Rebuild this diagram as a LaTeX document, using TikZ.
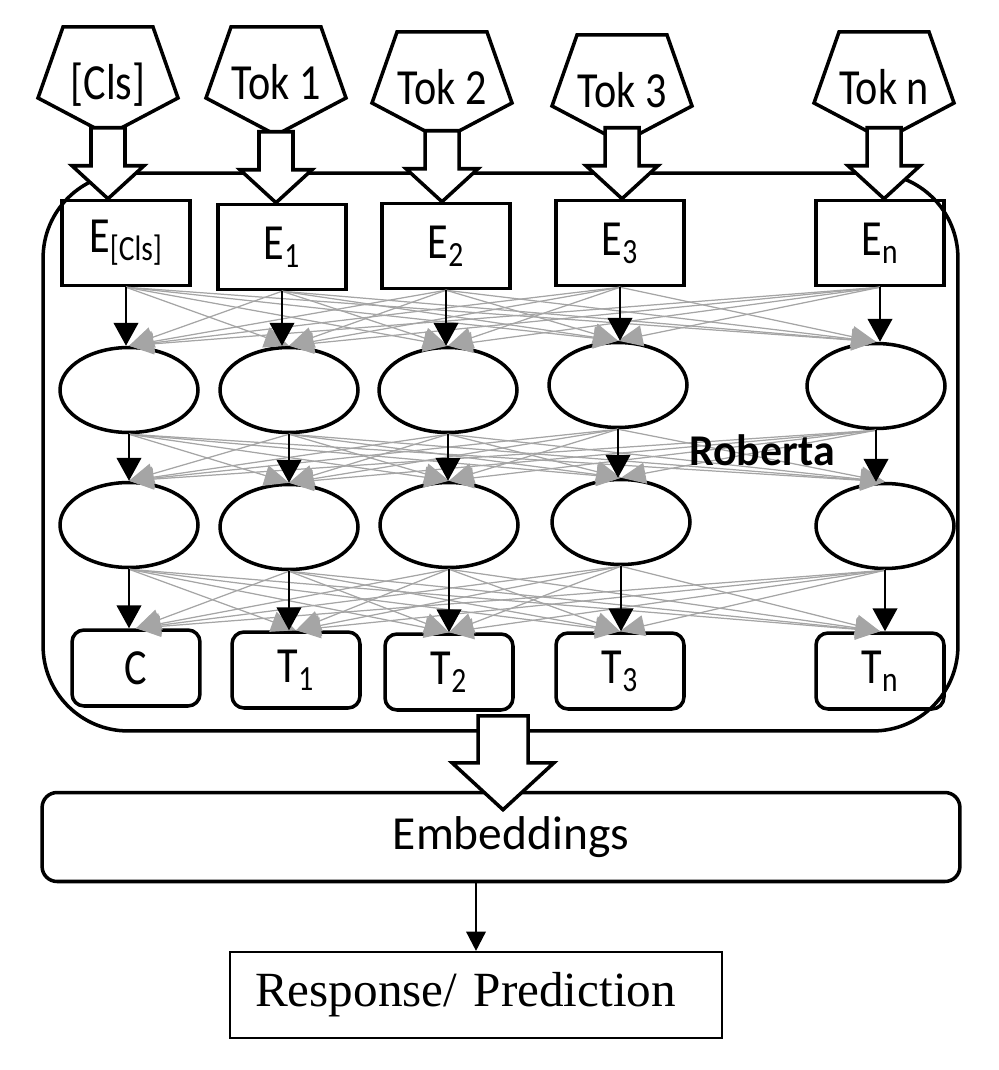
\documentclass[tikz,border=0pt]{standalone}
\usepackage{fontspec}
\usepackage{graphicx}
\usetikzlibrary{arrows.meta,calc,shapes.geometric}
\newfontfamily\labfont{Carlito}
\newfontfamily\respfont{Liberation Serif}
\definecolor{mygray}{RGB}{165,165,165}
\newcommand\tall[1]{\scalebox{1}[1.2]{#1}}
% block arrow pointing down: tip, shaft half width, head half width, shaft length, head length
\newcommand\blockarrow[5]{%
  \draw[bigarrow] #1 -- ++(#3,-#5) -- ++(#2-#3,0) -- ++(0,-#4)
    -- ++(-2*#2,0) -- ++(0,#4) -- ++(#2-#3,0) -- cycle;}
\tikzset{>={Triangle[width=14pt,length=13pt]}}
\tikzset{
  labtext/.style={font=\labfont\fontsize{24}{28}\selectfont},
  ebox/.style={draw,line width=2pt,minimum width=2.56cm,minimum height=1.7cm,inner sep=0,labtext},
  hnode/.style={draw,ellipse,line width=2pt,minimum width=2.76cm,minimum height=1.7cm,inner sep=0},
  tbox/.style={draw,line width=2pt,rounded corners=0.24cm,minimum width=2.56cm,minimum height=1.52cm,inner sep=0,labtext},
  blackarrow/.style={->,line width=1.1pt},
  grayarrow/.style={-{Triangle[width=12pt,length=14pt]},line width=0.7pt,draw=mygray,fill=mygray},
  bigarrow/.style={draw,line width=2pt,fill=white,line join=miter},
}

\begin{document}
\begin{tikzpicture}[x=0.02cm,y=-0.02cm]
  \useasboundingbox (0,0) rectangle (998,1070);

  % roberta block
  \node[draw,line width=2pt,rounded corners=1.7cm,minimum width=18.3cm,minimum height=11.16cm]
    (roberta) at (500.5,452) {};

  % input embeddings
  \node[ebox] (e0) at (126,243) {\tall{E\textsubscript{[Cls]}}};
  \node[ebox] (e1) at (282,247) {\tall{E\textsubscript{1}}};
  \node[ebox] (e2) at (446,246) {\tall{E\textsubscript{2}}};
  \node[ebox] (e3) at (620,243) {\tall{E\textsubscript{3}}};
  \node[ebox] (e4) at (880,243) {\tall{E\textsubscript{n}}};

  % hidden layers
  \foreach \i/\x/\y in {0/129/390,1/289/390,2/448/390,3/618/385,4/876/386}
    \node[hnode] (ha\i) at (\x,\y) {};
  \foreach \i/\x/\y in {0/129/525,1/289/527,2/449/525,3/621/522,4/885/526}
    \node[hnode] (hb\i) at (\x,\y) {};

  % outputs
  \node[tbox] (t0) at (136,668) {\tall{C}};
  \node[tbox] (t1) at (296,670) {\tall{T\textsubscript{1}}};
  \node[tbox] (t2) at (449,672) {\tall{T\textsubscript{2}}};
  \node[tbox] (t3) at (620,671) {\tall{T\textsubscript{3}}};
  \node[tbox] (t4) at (880,671) {\tall{T\textsubscript{n}}};

  % attention connections
  \foreach \a/\b in {e/ha,ha/hb,hb/t}
    \foreach \i in {0,...,4}
      \foreach \j in {0,...,4}
        {\ifnum\i=\j\else\draw[grayarrow] (\a\i.south) -- (\b\j.north);\fi}
  \foreach \a/\b in {e/ha,ha/hb,hb/t}
    \foreach \i in {0,...,4}
      \draw[blackarrow] (\a\i.south) -- (\a\i.south |- \b\i.north);

  \node[font=\labfont\bfseries\fontsize{25}{30}\selectfont] (lbl) at (762,450) {Roberta};

  % tokens
  \foreach \i/\cx/\ty/\lab in {0/108/27/{[Cls]},1/276/27/Tok 1,2/442/32/Tok 2,3/622/35/Tok 3,4/884/32/Tok n}{
    \draw[line width=2pt,line join=miter,fill=white]
      (\cx-45,\ty) -- (\cx+45,\ty) -- (\cx+70,\ty+71) -- (\cx,\ty+108) -- (\cx-70,\ty+71) -- cycle;
    \node[labtext,anchor=base,inner sep=0] (tok\i) at (\cx,\ty+73) {\tall{\lab}};
    \blockarrow{(tok\i |- e\i.north)}{17}{36}{38}{33}
  }

  % embeddings and prediction
  \node[draw,line width=2pt,rounded corners=0.3cm,minimum width=18.36cm,minimum height=1.78cm,
    font=\labfont\fontsize{27}{32}\selectfont] (emb) at (501,837) {\hspace{0.4cm}Embeddings};
  \blockarrow{($(roberta.south |- emb.north)+(2.5,19)$)}{25}{51}{47}{47}
  \node[draw,line width=1.2pt,minimum width=9.84cm,minimum height=1.72cm,text width=8.84cm,
    inner xsep=0.5cm,align=left,font=\respfont\fontsize{28}{32}\selectfont]
    (resp) at (476,995) {Response/ Prediction};
  \draw[-{Triangle[width=11pt,length=11pt]},line width=1.4pt] (resp.north |- emb.south) -- (resp.north);
\end{tikzpicture}
\end{document}
